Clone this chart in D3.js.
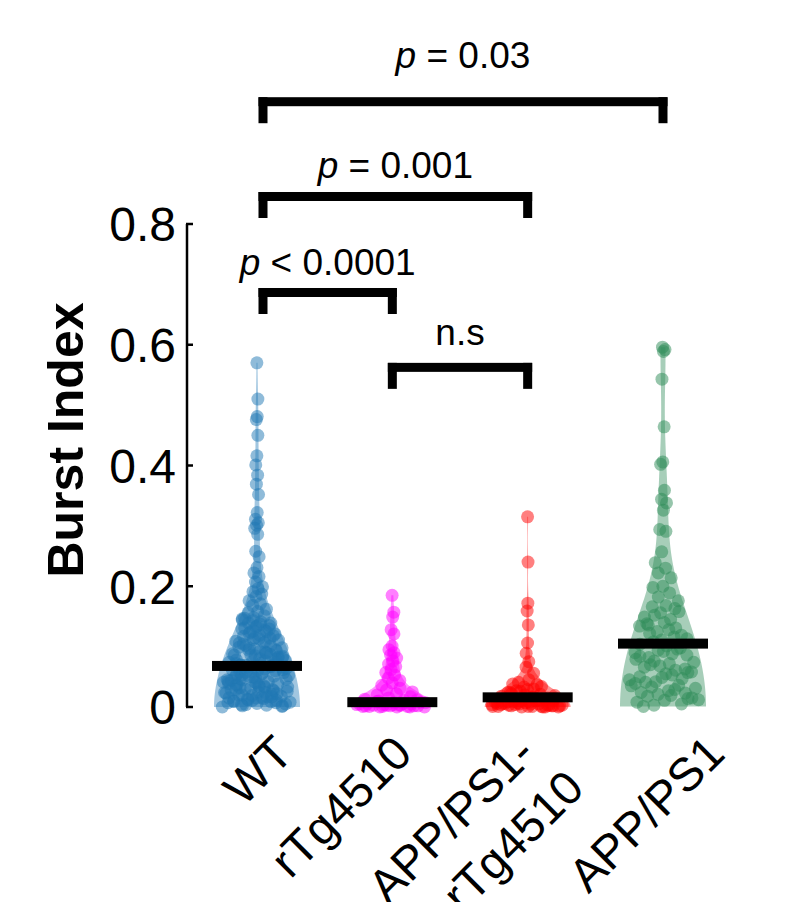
<!DOCTYPE html>
<html>
<head>
<meta charset="utf-8">
<script src="https://cdn.jsdelivr.net/npm/d3@7"></script>
<style>
  html, body { margin: 0; padding: 0; background: #fff; }
  svg { display: block; }
  text { font-family: "Liberation Sans", Arial, Helvetica, sans-serif; }
</style>
</head>
<body>
<div id="chart"></div>
<script>
// ---------- data ----------
const categories = ["WT", "rTg4510", "APP/PS1-rTg4510", "APP/PS1"];
const categoryLabels = [["WT"], ["rTg4510"], ["APP/PS1-", "rTg4510"], ["APP/PS1"]];
const colors = ["#1f77b4", "#ff00ff", "#ff0000", "#2e8b57"];

const wtValues = [0.570,0.510,0.481,0.476,0.450,0.416,0.401,0.384,0.369,0.352,0.322,0.311,0.305,0.301,0.296,0.286,0.258,0.249,0.231,0.222,0.216,0.207,0.199,0.196,0.191,0.187,0.183,0.176,0.171,0.168,0.162,0.158,0.156,0.151,0.148,0.146,0.141,0.139,0.135,0.133,0.129,0.127,0.124,0.121,0.119,0.117,0.114,0.112,0.109,0.107,
0.102,0.118,0.134,0.106,0.125,0.143,0.111,0.137,0.104,0.129,0.115,0.147,0.108,0.122,0.139,0.113,0.131,0.101,0.126,0.144,
0.003,0.047,0.081,0.015,0.062,0.029,0.094,0.008,0.055,0.036,0.071,0.019,0.088,0.042,0.004,0.066,0.025,0.099,0.051,0.012,0.077,0.033,0.058,0.001,0.085,0.039,0.021,0.069,0.046,0.092,0.010,0.060,0.031,0.074,0.017,0.053,0.083,0.006,0.044,0.027,0.097,0.064,0.014,0.037,0.079,0.050,0.023,0.090,0.002,0.057,0.034,0.072,0.011,0.086,0.041,0.063,0.020,0.095,0.048,0.007,0.068,0.030,0.082,0.016,0.054,0.038,0.075,0.024,0.091,0.045,0.005,0.061,0.028,0.087,0.013,0.052,0.035,0.070,0.018,0.096,0.043,0.009,0.065,0.026,0.080,0.049,0.022,0.059,0.000,0.076,0.032,0.093,0.040,0.015,0.067,0.004,0.084,0.056,0.029,0.073,0.011,0.045,0.089,0.020,0.062,0.036,0.078,0.007,0.051,0.098,0.024,0.069,0.002,0.041,0.086,0.017,0.058,0.033,0.072,0.009];

const rtgValues = [0.185,0.157,0.149,0.128,0.121,0.101,0.095,0.090,0.086,0.081,0.076,0.071,0.067,0.062,0.057,0.053,0.048,0.044,0.040,0.036,0.031,0.028,0.025,0.022,0.020,0.017,0.015,0.013,0.011,0.010,0.008,0.007,0.006,0.005,0.004,0.004,0.003,0.003,0.002,0.002,0.001,0.001,0.000,0.000,0.000,0.001,0.002,0.003,0.005,0.006,0.009,0.012,0.004,0.002,0.000,0.001,0.007,0.003];

const comboValues = [0.315,0.240,0.172,0.159,0.136,0.106,0.089,0.075,0.066,0.056,0.045,0.041,0.037,0.033,0.038,0.030,0.027,0.034,0.029,0.024,0.021,0.026,0.019,0.017,0.022,0.015,0.013,0.018,0.011,0.009,0.014,0.008,0.006,0.012,0.005,0.004,0.010,0.003,0.002,0.007,0.001,0.000,0.004,0.002,0.001,0.006,0.003,0.000,0.008,0.005,0.002,0.011,0.001,0.004,0.000,0.007,0.003,0.016,0.009,0.002,0.020,0.006,0.001,0.013,0.000,0.005,0.024,0.003,0.010,0.001];

const appValues = [0.596,0.592,0.589,0.543,0.464,0.406,0.402,0.359,0.344,0.338,0.326,0.294,0.291,0.257,0.239,0.230,0.222,0.214,0.200,0.198,0.189,0.182,
0.176,0.168,0.166,0.163,0.156,0.149,0.145,0.152,0.158,
0.140,0.138,0.131,0.125,0.134,0.128,0.122,0.119,0.111,0.104,0.116,0.108,0.113,0.101,0.136,
0.098,0.094,0.090,0.088,0.082,0.086,0.092,0.084,0.096,0.076,0.074,0.072,0.066,0.063,0.068,0.079,0.061,0.070,
0.058,0.055,0.050,0.047,0.042,0.045,0.053,0.041,0.057,0.049,0.039,0.036,0.033,0.031,0.027,0.024,0.023,0.021,0.035,0.029,
0.018,0.015,0.011,0.008,0.005,0.003,0.012,0.019,0.001,0.014];

const groupValues = [wtValues, rtgValues, comboValues, appValues];
const centerLines = [0.068, 0.008, 0.016, 0.105];

const yTicks = [0, 0.2, 0.4, 0.6, 0.8];
const yTickLabels = ["0", "0.2", "0.4", "0.6", "0.8"];

// significance brackets: [from index, to index] and height (y units)
const bracketPairs = [[0, 3], [0, 2], [0, 1], [1, 2]];
const bracketLevels = [1.010, 0.853, 0.694, 0.570];
const bracketTexts = [["p", " = 0.03"], ["p", " = 0.001"], ["p", " < 0.0001"], ["", "n.s"]];

// ---------- layout ----------
const W = 796, H = 902;
const labelGap = [29, 14, 13, 18];
const xLabelShift = [38, 22, 10, 64];
const bracketEndShift = [6, 0, 0, 0];

const svg = d3.select("#chart").append("svg").attr("width", W).attr("height", H);
svg.append("rect").attr("width", W).attr("height", H).attr("fill", "#fff");

const y = d3.scaleLinear().domain([0, 0.8]).range([707, 224]);
const x = d3.scalePoint().domain(categories).range([257, 663]);

const maxHalf = 43;
function gauss(u) { return Math.exp(-0.5 * u * u) / Math.sqrt(2 * Math.PI); }

groupValues.forEach((vals, gi) => {
  const cx = x(categories[gi]);
  const n = vals.length;
  const sd = d3.deviation(vals);
  const h = sd * Math.pow(n, -0.2);
  // gaussian KDE reflected at the lower bound (0)
  const dens = v => d3.mean(vals, d => gauss((v - d) / h) + gauss((v + d) / h)) / h;
  const lo = d3.min(vals), hi = d3.max(vals);
  const grid = d3.range(0, 121).map(i => lo + (hi - lo) * i / 120);
  const dvals = grid.map(dens);
  const dmax = d3.max(dvals);
  const half = v => dens(v) / dmax * maxHalf;

  const area = d3.area()
    .y(d => y(d[0]))
    .x0(d => cx - d[1] / dmax * maxHalf)
    .x1(d => cx + d[1] / dmax * maxHalf)
    .curve(d3.curveCatmullRom);
  svg.append("path")
    .datum(grid.map((g, i) => [g, dvals[i]]))
    .attr("d", area)
    .attr("fill", colors[gi])
    .attr("fill-opacity", 0.42)
    .attr("stroke", "none");

  const g = svg.append("g");
  vals.forEach((v, i) => {
    const u = ((i * 0.6180339887 + 0.37) % 1) * 2 - 1;
    const off = u * half(v) * 0.84;
    g.append("circle")
      .attr("cx", cx + off)
      .attr("cy", y(v))
      .attr("r", 6.5)
      .attr("fill", colors[gi])
      .attr("fill-opacity", 0.5);
  });
});

// center lines
svg.selectAll("rect.mean").data(centerLines).enter().append("rect")
  .attr("class", "mean")
  .attr("x", (d, i) => x(categories[i]) - 45)
  .attr("width", 90)
  .attr("y", d => y(d) - 5)
  .attr("height", 10)
  .attr("fill", "#000");

// y axis
const axis = svg.append("g");
axis.append("line").attr("x1", 187).attr("x2", 187)
  .attr("y1", y(0.8)).attr("y2", y(0))
  .attr("stroke", "#000").attr("stroke-width", 2.5);
yTicks.forEach((t, i) => {
  axis.append("line").attr("x1", 186).attr("x2", 193)
    .attr("y1", y(t)).attr("y2", y(t))
    .attr("stroke", "#000").attr("stroke-width", 2.5);
  axis.append("text").attr("x", 176).attr("y", y(t)).attr("dy", "0.36em")
    .attr("text-anchor", "end").attr("font-size", 48).attr("fill", "#000")
    .text(yTickLabels[i]);
});

svg.append("text")
  .attr("transform", `translate(83,440) rotate(-90)`)
  .attr("text-anchor", "middle")
  .attr("font-size", 50).attr("font-weight", "bold").attr("fill", "#000")
  .text("Burst Index");

// x labels
categoryLabels.forEach((lines, i) => {
  const t = svg.append("text")
    .attr("transform", `translate(${x(categories[i]) + xLabelShift[i]},756) rotate(-45)`)
    .attr("text-anchor", "end").attr("font-size", 47).attr("fill", "#000");
  lines.forEach((ln, j) => {
    t.append("tspan").attr("x", j === 0 ? 0 : 10).attr("dy", j === 0 ? 0 : "1.25em").text(ln);
  });
});

// brackets
const bw = 9, leg = 26;
bracketPairs.forEach((p, i) => {
  const x1 = x(categories[p[0]]) + bracketEndShift[p[0]];
  const x2 = x(categories[p[1]]) + bracketEndShift[p[1]];
  const top = y(bracketLevels[i]);
  const gB = svg.append("g").attr("fill", "#000");
  gB.append("rect").attr("x", x1 - bw / 2).attr("y", top).attr("width", x2 - x1 + bw).attr("height", bw);
  gB.append("rect").attr("x", x1 - bw / 2).attr("y", top).attr("width", bw).attr("height", leg);
  gB.append("rect").attr("x", x2 - bw / 2).attr("y", top).attr("width", bw).attr("height", leg);
  const t = svg.append("text").attr("x", (x1 + x2) / 2).attr("y", top - labelGap[i])
    .attr("text-anchor", "middle").attr("font-size", 37).attr("fill", "#000");
  if (bracketTexts[i][0]) t.append("tspan").attr("font-style", "italic").text(bracketTexts[i][0]);
  t.append("tspan").text(bracketTexts[i][1]);
});
</script>
</body>
</html>
